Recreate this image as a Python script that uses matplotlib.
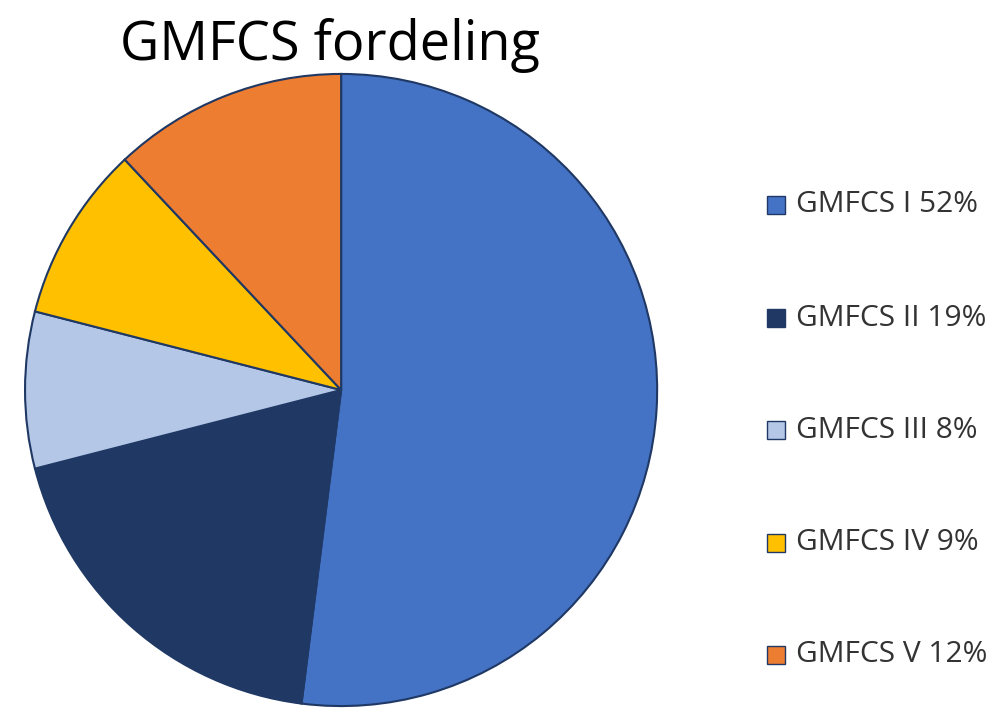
import matplotlib.pyplot as plt
from matplotlib.patches import Rectangle

labels = ['GMFCS I', 'GMFCS II', 'GMFCS III', 'GMFCS IV', 'GMFCS V']
values = [52, 19, 8, 9, 12]
colors = ['#4472C4', '#203864', '#B4C7E7', '#FFC000', '#ED7D31']
edge = '#1F3864'

plt.rcParams['font.family'] = ['Open Sans', 'DejaVu Sans']

fig = plt.figure(figsize=(9.91, 7.08), dpi=100)
ax = fig.add_axes([0.0242, 0.0014, 0.640, 0.8955])
ax.pie(values, colors=colors, startangle=90, counterclock=False, radius=1,
       wedgeprops=dict(edgecolor=edge, linewidth=1.5))
ax.set_xlim(-1.003, 1.003)
ax.set_ylim(-1.003, 1.003)
ax.set_aspect('equal')

fig.text(0.333, 0.936, 'GMFCS fordeling', fontsize=39, ha='center', va='center')

# legend
ys = [205, 318, 430, 543, 655]
for lab, v, c, y in zip(labels, values, colors, ys):
    yf = 1 - y / 708
    fig.patches.append(Rectangle((767 / 991, yf - 9 / 708), 18 / 991, 18 / 708,
                                 transform=fig.transFigure, facecolor=c,
                                 edgecolor=edge, linewidth=1))
    fig.text(796 / 991, yf, f'{lab} {v}%', fontsize=21.5, ha='left', va='center',
             color='#333333')

fig.savefig('out.png', dpi=100)
